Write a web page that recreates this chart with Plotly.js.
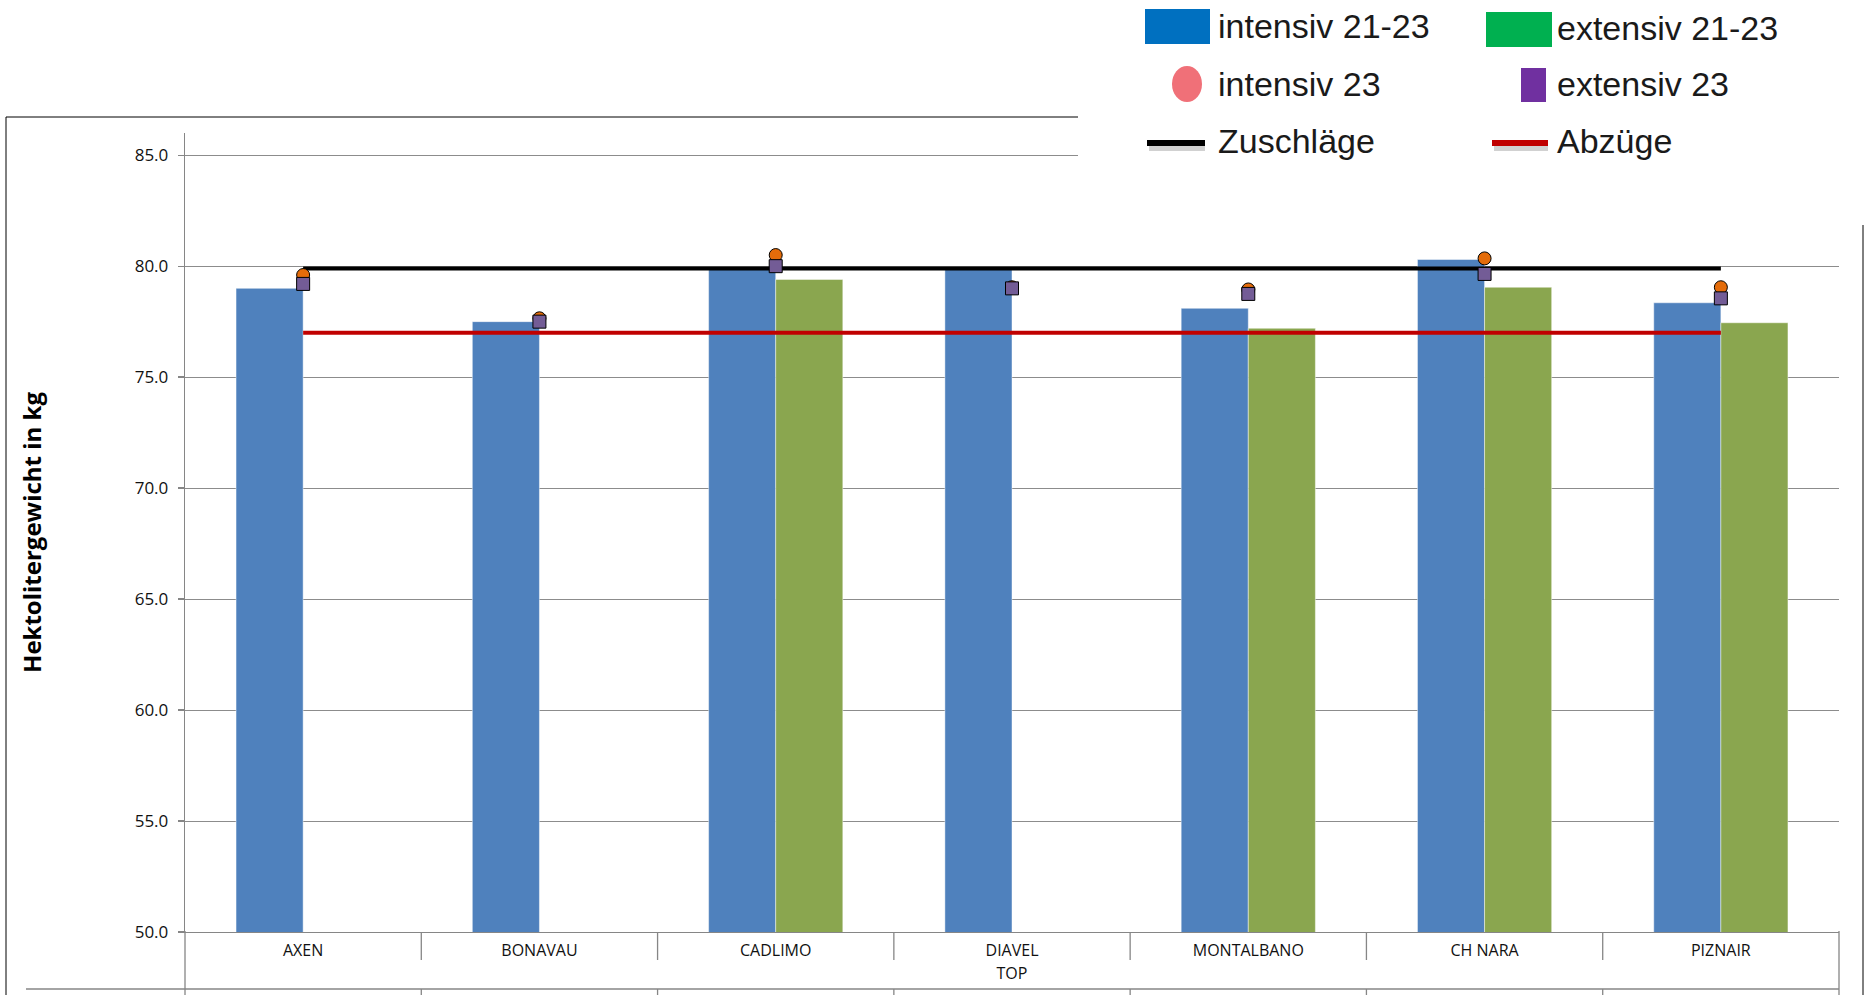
<!DOCTYPE html>
<html>
<head>
<meta charset="utf-8">
<script src="https://cdn.plot.ly/plotly-3.0.1.min.js"></script>
<style>html,body{margin:0;padding:0;background:#fff;}#chart{width:1864px;height:995px;}</style>
</head>
<body>
<div id="chart"></div>
<script>
// ---- data ----
const categories = ['AXEN', 'BONAVAU', 'CADLIMO', 'DIAVEL', 'MONTALBANO', 'CH NARA', 'PIZNAIR'];
const intensiv2123 = [79.0, 77.5, 79.85, 79.85, 78.1, 80.3, 78.35];
const extensiv2123 = [null, null, 79.4, null, 77.2, 79.05, 77.45];
const intensiv23 = [79.6, 77.65, 80.5, 79.05, 78.95, 80.35, 79.05];
const extensiv23 = [79.2, 77.5, 80.0, 79.0, 78.75, 79.65, 78.55];
const zuschlaege = [79.9, 79.9, 79.9, 79.9, 79.9, 79.9, 79.9];
const abzuege = [77.0, 77.0, 77.0, 77.0, 77.0, 77.0, 77.0];
const legendLabels = ['intensiv 21-23', 'extensiv 21-23', 'intensiv 23', 'extensiv 23', 'Zuschläge', 'Abzüge'];
const yTitle = 'Hektolitergewicht in kg';
const xTitle = 'TOP';

// ---- geometry helpers (pixels -> paper) ----
const W = 1864, H = 995, ML = 185, MR = 25, MT = 133, MB = 63;
const PW = W - ML - MR, PH = H - MT - MB;
const xp = px => (px - ML) / PW;
const yp = py => (H - MB - py) / PH;

const traces = [
  {type: 'bar', x: categories, y: intensiv2123, name: legendLabels[0],
   marker: {color: '#4F81BD', line: {color: 'rgba(255,255,255,0.45)', width: 1}}, showlegend: false},
  {type: 'bar', x: categories, y: extensiv2123, name: legendLabels[1],
   marker: {color: '#8AA64F', line: {color: 'rgba(255,255,255,0.45)', width: 1}}, showlegend: false},
  {type: 'scatter', mode: 'lines', x: categories, y: zuschlaege, name: legendLabels[4],
   line: {color: '#000000', width: 4}, showlegend: false},
  {type: 'scatter', mode: 'lines', x: categories, y: abzuege, name: legendLabels[5],
   line: {color: '#C00000', width: 4}, showlegend: false},
  {type: 'scatter', mode: 'markers', x: categories, y: intensiv23, name: legendLabels[2],
   marker: {symbol: 'circle', size: 13, color: '#E46C0A', line: {color: '#000', width: 1}}, showlegend: false},
  {type: 'scatter', mode: 'markers', x: categories, y: extensiv23, name: legendLabels[3],
   marker: {symbol: 'square', size: 13, color: '#735C96', line: {color: '#000', width: 1}}, showlegend: false}
];

const gray = '#868686';
const shapes = [];
function pline(x0, y0, x1, y1, color, width) {
  shapes.push({type: 'line', xref: 'paper', yref: 'paper', x0: xp(x0), y0: yp(y0), x1: xp(x1), y1: yp(y1),
    line: {color: color, width: width}, layer: 'above'});
}
// white cover behind the pasted legend
shapes.push({type: 'rect', xref: 'paper', yref: 'paper', x0: xp(1078), x1: xp(1870), y0: yp(224), y1: yp(-5),
  fillcolor: '#ffffff', line: {width: 0}, layer: 'above'});
// outer frame
pline(6, 117, 1078, 117, '#000', 1);
pline(6, 117, 6, 995, '#000', 1);
pline(1863, 225, 1863, 995, '#000', 1);
// category table
pline(26, 989, 1839, 989, gray, 1.3);
pline(185, 931, 185, 995, gray, 1.3);
pline(1839, 931, 1839, 995, gray, 1.3);
for (let i = 1; i < categories.length; i++) {
  shapes.push({type: 'line', xref: 'x', yref: 'paper', x0: i - 0.5, x1: i - 0.5, y0: yp(932), y1: yp(960),
    line: {color: gray, width: 1.3}, layer: 'above'});
  shapes.push({type: 'line', xref: 'x', yref: 'paper', x0: i - 0.5, x1: i - 0.5, y0: yp(989), y1: yp(995),
    line: {color: gray, width: 1.3}, layer: 'above'});
}
// legend symbols
function prect(x0, y0, x1, y1, color, type) {
  shapes.push({type: type || 'rect', xref: 'paper', yref: 'paper', x0: xp(x0), x1: xp(x1), y0: yp(y1), y1: yp(y0),
    fillcolor: color, line: {width: 0}, layer: 'above'});
}
prect(1145, 9, 1210, 44, '#0070C0');
prect(1486, 12, 1552, 47, '#00B050');
prect(1172, 66, 1202, 102, '#F07078', 'circle');
prect(1521, 68, 1546, 102, '#7030A0');
pline(1149, 148, 1205, 148, 'rgba(0,0,0,0.18)', 6);
pline(1494, 148, 1548, 148, 'rgba(0,0,0,0.18)', 6);
pline(1147, 143, 1205, 143, '#000000', 6);
pline(1492, 143, 1548, 143, '#C00000', 6);

const legFont = {family: 'Liberation Sans, Arial, sans-serif', size: 34, color: '#1a1a1a'};
const legPos = [[1216, 26], [1555, 28], [1216, 84], [1555, 84], [1216, 141], [1555, 141]];
const annotations = legendLabels.map((t, i) => ({
  text: t, xref: 'paper', yref: 'paper', x: xp(legPos[i][0]), y: yp(legPos[i][1]),
  xanchor: 'left', yanchor: 'middle', showarrow: false, font: legFont
}));

const layout = {
  width: W, height: H,
  margin: {l: ML, r: MR, t: MT, b: MB, pad: 0},
  paper_bgcolor: '#ffffff', plot_bgcolor: '#ffffff',
  barmode: 'group', bargap: 0.432, bargroupgap: 0,
  showlegend: false,
  font: {family: 'Open Sans, sans-serif', color: '#222'},
  xaxis: {
    type: 'category', range: [-0.5, 6.5], showgrid: false, zeroline: false,
    showline: true, linecolor: gray, linewidth: 1.3, ticks: '',
    tickfont: {family: 'Open Sans, sans-serif', size: 16, color: '#111'},
    ticklabelstandoff: 3,
    title: {text: xTitle, font: {family: 'Open Sans, sans-serif', size: 16, color: '#111'}, standoff: 8}
  },
  yaxis: {
    range: [50, 86], tick0: 50, dtick: 5, tickformat: '.1f',
    showgrid: true, gridcolor: '#8C8C8C', gridwidth: 1, zeroline: false,
    showline: true, linecolor: gray, linewidth: 1.3,
    ticks: 'outside', ticklen: 6, tickcolor: gray, tickwidth: 1.3,
    tickfont: {family: 'Open Sans, sans-serif', size: 17, color: '#111'},
    ticklabelstandoff: 6,
    title: {text: yTitle, font: {family: 'Open Sans, sans-serif', size: 24, color: '#000', weight: 'bold'}, standoff: 86}
  },
  shapes: shapes,
  annotations: annotations
};

Plotly.newPlot('chart', traces, layout, {staticPlot: true, displayModeBar: false});
</script>
</body>
</html>
